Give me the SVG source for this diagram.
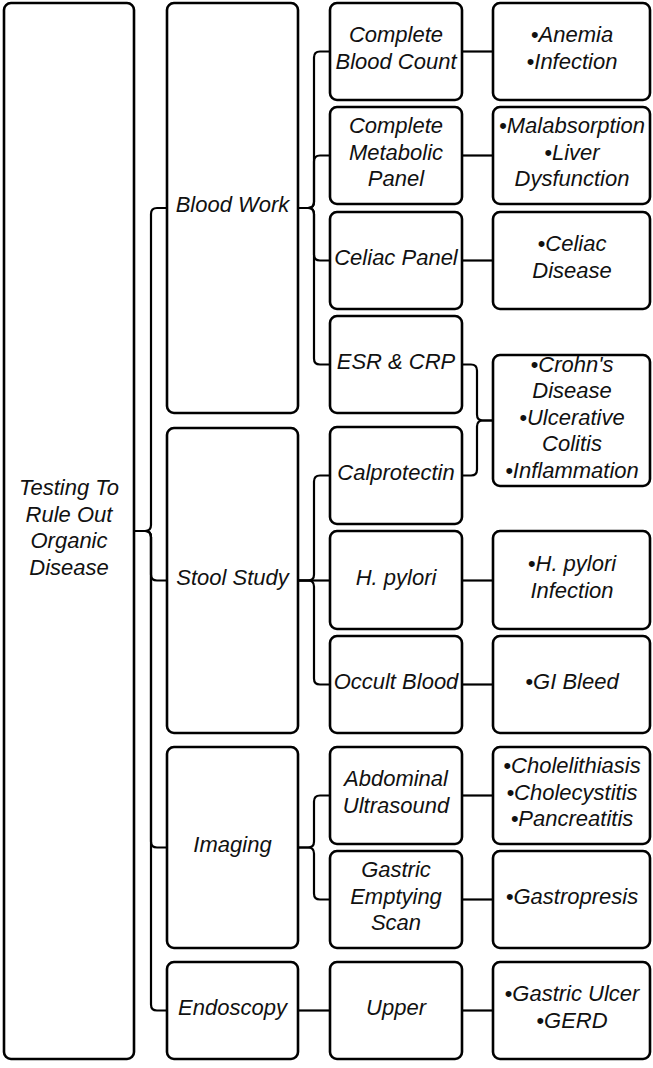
<svg xmlns="http://www.w3.org/2000/svg" width="653" height="1068" viewBox="0 0 653 1068">
<style>
.box{fill:#fff;stroke:#000;stroke-width:2.6}
.c{fill:none;stroke:#000;stroke-width:2.2}
text{font-family:"Liberation Sans",Arial,sans-serif;font-style:italic;font-size:22px;text-anchor:middle;fill:#111}
</style>
<rect width="653" height="1068" fill="#fff"/>
<g id="connectors">
<path class="c" d="M134,531 H145 Q151,531 151,525 V214 Q151,208 157,208 H167"/>
<path class="c" d="M134,531 H145 Q151,531 151,537 V574.5 Q151,580.5 157,580.5 H167"/>
<path class="c" d="M134,531 H145 Q151,531 151,537 V841.5 Q151,847.5 157,847.5 H167"/>
<path class="c" d="M134,531 H145 Q151,531 151,537 V1004.5 Q151,1010.5 157,1010.5 H167"/>
<path class="c" d="M298,208 H308 Q314,208 314,202 V57.5 Q314,51.5 320,51.5 H330"/>
<path class="c" d="M298,208 H308 Q314,208 314,202 V161.5 Q314,155.5 320,155.5 H330"/>
<path class="c" d="M298,208 H308 Q314,208 314,214 V254.5 Q314,260.5 320,260.5 H330"/>
<path class="c" d="M298,208 H308 Q314,208 314,214 V358.5 Q314,364.5 320,364.5 H330"/>
<path class="c" d="M298,580.5 H308 Q314,580.5 314,574.5 V481.5 Q314,475.5 320,475.5 H330"/>
<path class="c" d="M298,580.5 H330"/>
<path class="c" d="M298,580.5 H308 Q314,580.5 314,586.5 V678.5 Q314,684.5 320,684.5 H330"/>
<path class="c" d="M298,847.5 H308 Q314,847.5 314,841.5 V801.5 Q314,795.5 320,795.5 H330"/>
<path class="c" d="M298,847.5 H308 Q314,847.5 314,853.5 V893.5 Q314,899.5 320,899.5 H330"/>
<path class="c" d="M298,1010.5 H330"/>
<path class="c" d="M462,51.5 H493"/>
<path class="c" d="M462,155.5 H493"/>
<path class="c" d="M462,260.5 H493"/>
<path class="c" d="M462,364.5 H471 Q477,364.5 477,370.5 V414.5 Q477,420.5 483,420.5 H493"/>
<path class="c" d="M462,475.5 H471 Q477,475.5 477,469.5 V426.5 Q477,420.5 483,420.5 H493"/>
<path class="c" d="M462,580.5 H493"/>
<path class="c" d="M462,684.5 H493"/>
<path class="c" d="M462,795.5 H493"/>
<path class="c" d="M462,899.5 H493"/>
<path class="c" d="M462,1010.5 H493"/>
</g>
<g id="root"><rect class="box" x="4" y="3" width="130" height="1056" rx="7"/>
<text x="69" y="495">Testing To</text><text x="69" y="521.5">Rule Out</text><text x="69" y="548">Organic</text><text x="69" y="574.5">Disease</text></g>
<g id="blood-work"><rect class="box" x="167" y="3" width="131" height="410" rx="7"/><text x="232.5" y="212">Blood Work</text></g>
<g id="stool-study"><rect class="box" x="167" y="428" width="131" height="305" rx="7"/><text x="232.5" y="584.5">Stool Study</text></g>
<g id="imaging"><rect class="box" x="167" y="747" width="131" height="201" rx="7"/><text x="232.5" y="851.5">Imaging</text></g>
<g id="endoscopy"><rect class="box" x="167" y="962" width="131" height="97" rx="7"/><text x="232.5" y="1014.5">Endoscopy</text></g>
<g id="cbc"><rect class="box" x="330" y="3" width="132" height="97" rx="7"/><text x="396" y="42.25">Complete</text><text x="396" y="68.75">Blood Count</text></g>
<g id="cmp"><rect class="box" x="330" y="107" width="132" height="97" rx="7"/><text x="396" y="133">Complete</text><text x="396" y="159.5">Metabolic</text><text x="396" y="186">Panel</text></g>
<g id="celiac-panel"><rect class="box" x="330" y="212" width="132" height="97" rx="7"/><text x="396" y="264.5">Celiac Panel</text></g>
<g id="esr-crp"><rect class="box" x="330" y="316" width="132" height="97" rx="7"/><text x="396" y="368.5">ESR &amp; CRP</text></g>
<g id="calprotectin"><rect class="box" x="330" y="427" width="132" height="97" rx="7"/><text x="396" y="479.5">Calprotectin</text></g>
<g id="h-pylori"><rect class="box" x="330" y="531" width="132" height="98" rx="7"/><text x="396" y="584.5">H. pylori</text></g>
<g id="occult-blood"><rect class="box" x="330" y="636" width="132" height="97" rx="7"/><text x="396" y="688.5">Occult Blood</text></g>
<g id="abdominal-us"><rect class="box" x="330" y="747" width="132" height="97" rx="7"/><text x="396" y="786.25">Abdominal</text><text x="396" y="812.75">Ultrasound</text></g>
<g id="gastric-emptying"><rect class="box" x="330" y="851" width="132" height="97" rx="7"/><text x="396" y="877">Gastric</text><text x="396" y="903.5">Emptying</text><text x="396" y="930">Scan</text></g>
<g id="upper"><rect class="box" x="330" y="962" width="132" height="97" rx="7"/><text x="396" y="1014.5">Upper</text></g>
<g id="dx-cbc"><rect class="box" x="493" y="3" width="157" height="97" rx="7"/><text x="572" y="42.25">•Anemia</text><text x="572" y="68.75">•Infection</text></g>
<g id="dx-cmp"><rect class="box" x="493" y="107" width="157" height="97" rx="7"/><text x="572" y="133">•Malabsorption</text><text x="572" y="159.5">•Liver</text><text x="572" y="186">Dysfunction</text></g>
<g id="dx-celiac"><rect class="box" x="493" y="212" width="157" height="97" rx="7"/><text x="572" y="251.25">•Celiac</text><text x="572" y="277.75">Disease</text></g>
<g id="dx-ibd"><rect class="box" x="493" y="355" width="157" height="131" rx="7"/><text x="572" y="371.5">•Crohn's</text><text x="572" y="398">Disease</text><text x="572" y="424.5">•Ulcerative</text><text x="572" y="451">Colitis</text><text x="572" y="477.5">•Inflammation</text></g>
<g id="dx-hpylori"><rect class="box" x="493" y="531" width="157" height="98" rx="7"/><text x="572" y="571.25">•H. pylori</text><text x="572" y="597.75">Infection</text></g>
<g id="dx-gi-bleed"><rect class="box" x="493" y="636" width="157" height="97" rx="7"/><text x="572" y="688.5">•GI Bleed</text></g>
<g id="dx-us"><rect class="box" x="493" y="747" width="157" height="97" rx="7"/><text x="572" y="773">•Cholelithiasis</text><text x="572" y="799.5">•Cholecystitis</text><text x="572" y="826">•Pancreatitis</text></g>
<g id="dx-gastric"><rect class="box" x="493" y="851" width="157" height="97" rx="7"/><text x="572" y="903.5">•Gastropresis</text></g>
<g id="dx-upper"><rect class="box" x="493" y="962" width="157" height="97" rx="7"/><text x="572" y="1001.25">•Gastric Ulcer</text><text x="572" y="1027.75">•GERD</text></g>
</svg>
